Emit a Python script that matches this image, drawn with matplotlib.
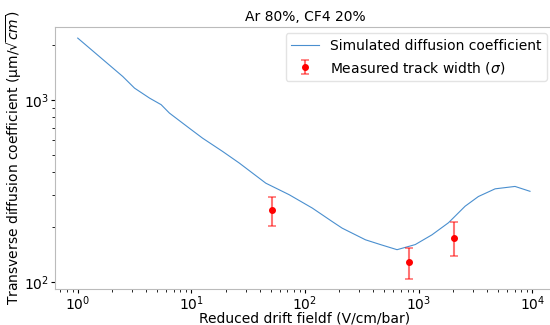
import matplotlib
matplotlib.use("Agg")
import matplotlib.pyplot as plt
import numpy as np

sim_field = [1.0, 2.49, 3.16, 4.29, 5.42, 6.41, 9.59, 12.56, 18.84, 26.4, 45.2, 72.4, 115.9, 173.8, 212.3, 340.4, 461.3, 645.7, 933.3, 1309.0, 1832.0, 2564.0, 3357.0, 4710.0, 7047.0, 9550.0]
sim_diff = [2183, 1343, 1159, 1021, 940, 845, 698, 615, 520, 449, 348, 301, 254, 214, 197, 170, 160, 150, 160, 181, 211, 260, 294, 324, 334, 314]

meas_field = [51.0, 828.0, 2057.0]
meas_sigma = [249, 129, 175]
meas_lo = [203, 104, 138]
meas_hi = [293, 154, 214]

plt.rcParams['font.family'] = 'DejaVu Sans'
fig = plt.figure(figsize=(5.5, 3.25), dpi=100)
ax = fig.add_axes([55/550, 1-289/325, 500/550, (289-27)/325])

ax.plot(sim_field, sim_diff, color='#4a8fcf', lw=0.8, label='Simulated diffusion coefficient')
yerr = [np.array(meas_sigma) - np.array(meas_lo), np.array(meas_hi) - np.array(meas_sigma)]
ax.errorbar(meas_field, meas_sigma, yerr=yerr, fmt='o', color='red', ms=4,
            ecolor=(1, 0, 0, 0.55), elinewidth=1.5, capsize=3, capthick=1.2,
            label=r'Measured track width ($\sigma$)')
ax.set_xscale('log')
ax.set_yscale('log')
ax.set_ylim(10**1.96, 10**3.40)
ax.set_xlim(10**-0.2, 10**4.2)
ax.set_title('Ar 80%, CF4 20%', fontsize=10, pad=4)
ax.set_xlabel('Reduced drift fieldf (V/cm/bar)', fontsize=10, labelpad=-1)
ax.set_ylabel(r'Transverse diffusion coefficient (µm/$\sqrt{cm}$)', fontsize=10, labelpad=0)
ax.tick_params(labelsize=10, length=3, width=0.8, pad=1)
ax.tick_params(which='minor', length=2, width=0.6)
for s in ax.spines.values():
    s.set_color('#bbbbbb')
ax.legend(loc='upper right', fontsize=10, framealpha=0.8, edgecolor='#dddddd',
          borderaxespad=0, bbox_to_anchor=(0.984, 0.977))
fig.savefig('out.png', dpi=100)
